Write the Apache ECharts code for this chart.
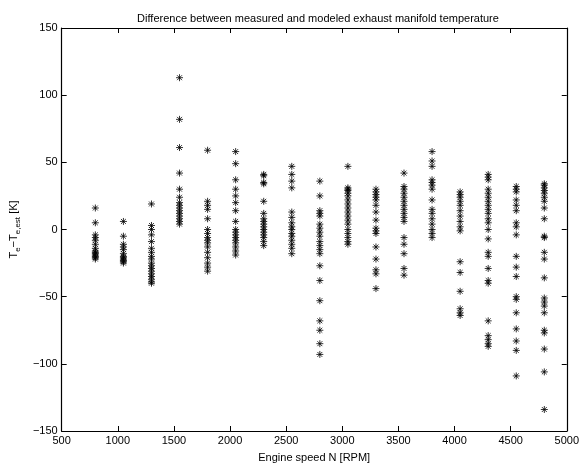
<!DOCTYPE html>
<html><head><meta charset="utf-8">
<script src="https://cdn.jsdelivr.net/npm/echarts@6/dist/echarts.min.js"></script>
<style>html,body{margin:0;padding:0;background:#fff}#c{width:582px;height:468px}</style>
</head><body><div id="c"></div>
<script>
const speeds = [800, 1050, 1300, 1550, 1800, 2050, 2300, 2550, 2800, 3050, 3300, 3550, 3800, 4050, 4300, 4550, 4800];
const d800 = [16, 5, -4, -6, -8, -11, -14, -16, -17, -18, -19, -20, -21, -22];
const d1050 = [6, -5, -11, -13, -15, -18, -20, -21, -22, -23, -24, -25];
const d1300 = [19, 3, 0, -4, -9, -14, -17, -20, -22, -25, -27, -29, -31, -33, -35, -37, -39, -40];
const d1550 = [113, 82, 61, 42, 30, 24, 20, 18, 16, 14, 12, 10, 8, 6, 4];
const d1800 = [59, 21, 18, 15, 8, 0, -3, -6, -8, -10, -13, -17, -21, -25, -28, -31];
const d2050 = [58, 49, 37, 30, 25, 20, 14, 6, 0, -2, -4, -6, -8, -10, -13, -16, -19];
const d2300 = [41, 40, 35, 34, 21, 12, 8, 6, 4, 2, 0, -2, -4, -6, -9, -12];
const d2550 = [47, 41, 36, 31, 13, 9, 5, 2, 0, -3, -5, -8, -11, -14, -18];
const d2800 = [36, 25, 14, 12, 10, 4, 1, -2, -5, -9, -12, -15, -18, -27, -38, -53, -68, -75, -85, -93];
const d3050 = [47, 31, 30, 29, 27, 25, 22, 19, 16, 13, 10, 7, 4, 0, -3, -6, -9, -11];
const d3300 = [30, 28, 26, 24, 22, 18, 13, 7, 1, -1, -3, -13, -22, -30, -33, -44];
const d3550 = [42, 32, 30, 27, 24, 21, 18, 15, 12, 9, 6, -6, -11, -18, -29, -34];
const d3800 = [58, 51, 47, 37, 35, 33, 30, 22, 15, 12, 8, 4, 0, -3, -6];
const d4050 = [28, 26, 24, 21, 18, 14, 10, 6, 2, -1, -24, -32, -46, -59, -62, -64];
const d4300 = [41, 39, 37, 30, 27, 24, 21, 18, 15, 12, 8, 5, 0, -7, -17, -20, -29, -38, -40, -68, -79, -82, -85, -87];
const d4550 = [32, 30, 28, 22, 18, 14, 5, 2, -4, -20, -28, -35, -50, -52, -62, -74, -83, -90, -109];
const d4800 = [34, 33, 31, 29, 27, 24, 21, 16, 8, -5, -6, -17, -22, -36, -51, -54, -57, -62, -75, -77, -89, -106, -134];
const groups = [d800, d1050, d1300, d1550, d1800, d2050, d2300, d2550, d2800, d3050, d3300, d3550, d3800, d4050, d4300, d4550, d4800];

const points = [];
groups.forEach((g, i) => g.forEach(v => points.push([speeds[i], v])));

const fmt = v => (v < 0 ? '\u2212' + Math.abs(v) : String(v));
const font = 'Liberation Sans, Arial, Helvetica, sans-serif';
const axisCommon = {
  axisLine: { show: true, onZero: false, lineStyle: { color: '#000', width: 1.2 } },
  axisTick: { show: true, inside: true, length: 5, lineStyle: { color: '#000' } },
  splitLine: { show: false },
};
const chart = echarts.init(document.getElementById('c'));
chart.setOption({
  animation: false,
  backgroundColor: '#fff',
  title: {
    text: 'Difference between measured and modeled exhaust manifold temperature',
    left: 313, top: 8, textAlign: 'center',
    textStyle: { fontFamily: font, fontSize: 11, fontWeight: 'normal', color: '#000' }
  },
  grid: { left: 56, right: 12, top: 28, bottom: 35 },
  xAxis: [
    Object.assign({}, axisCommon, {
      type: 'value', min: 500, max: 5000, interval: 500, position: 'bottom',
      name: 'Engine speed N [RPM]', nameLocation: 'middle', nameGap: 21,
      nameTextStyle: { fontFamily: font, fontSize: 11, color: '#000' },
      axisLabel: { fontFamily: font, fontSize: 11, color: '#000', margin: 4, formatter: fmt }
    }),
    Object.assign({}, axisCommon, {
      type: 'value', min: 500, max: 5000, interval: 500, position: 'top',
      axisLabel: { show: false }
    })
  ],
  yAxis: [
    Object.assign({}, axisCommon, {
      type: 'value', min: -150, max: 150, interval: 50, position: 'left',
      axisLabel: { fontFamily: font, fontSize: 11, color: '#000', margin: 4, formatter: fmt },
      name: '{a|T}{s|e}{a|\u2212T}{s|e,est}{a| [K]}', nameLocation: 'middle', nameGap: 32,
      nameTextStyle: {
        fontFamily: font, color: '#000',
        rich: {
          a: { fontFamily: font, fontSize: 11, color: '#000', lineHeight: 16, verticalAlign: 'middle' },
          s: { fontFamily: font, fontSize: 8, color: '#000', lineHeight: 16, verticalAlign: 'bottom', padding: [6, 0, 0, 0] }
        }
      }
    }),
    Object.assign({}, axisCommon, {
      type: 'value', min: -150, max: 150, interval: 50, position: 'right',
      axisLabel: { show: false }
    })
  ],
  series: [{
    type: 'scatter',
    data: points,
    symbol: 'path://M5,0L5,10M0,5L10,5M1.5,1.5L8.5,8.5M1.5,8.5L8.5,1.5',
    symbolSize: 7,
    itemStyle: { color: '#000', borderColor: '#000', borderWidth: 1 }
  }]
});
</script></body></html>
